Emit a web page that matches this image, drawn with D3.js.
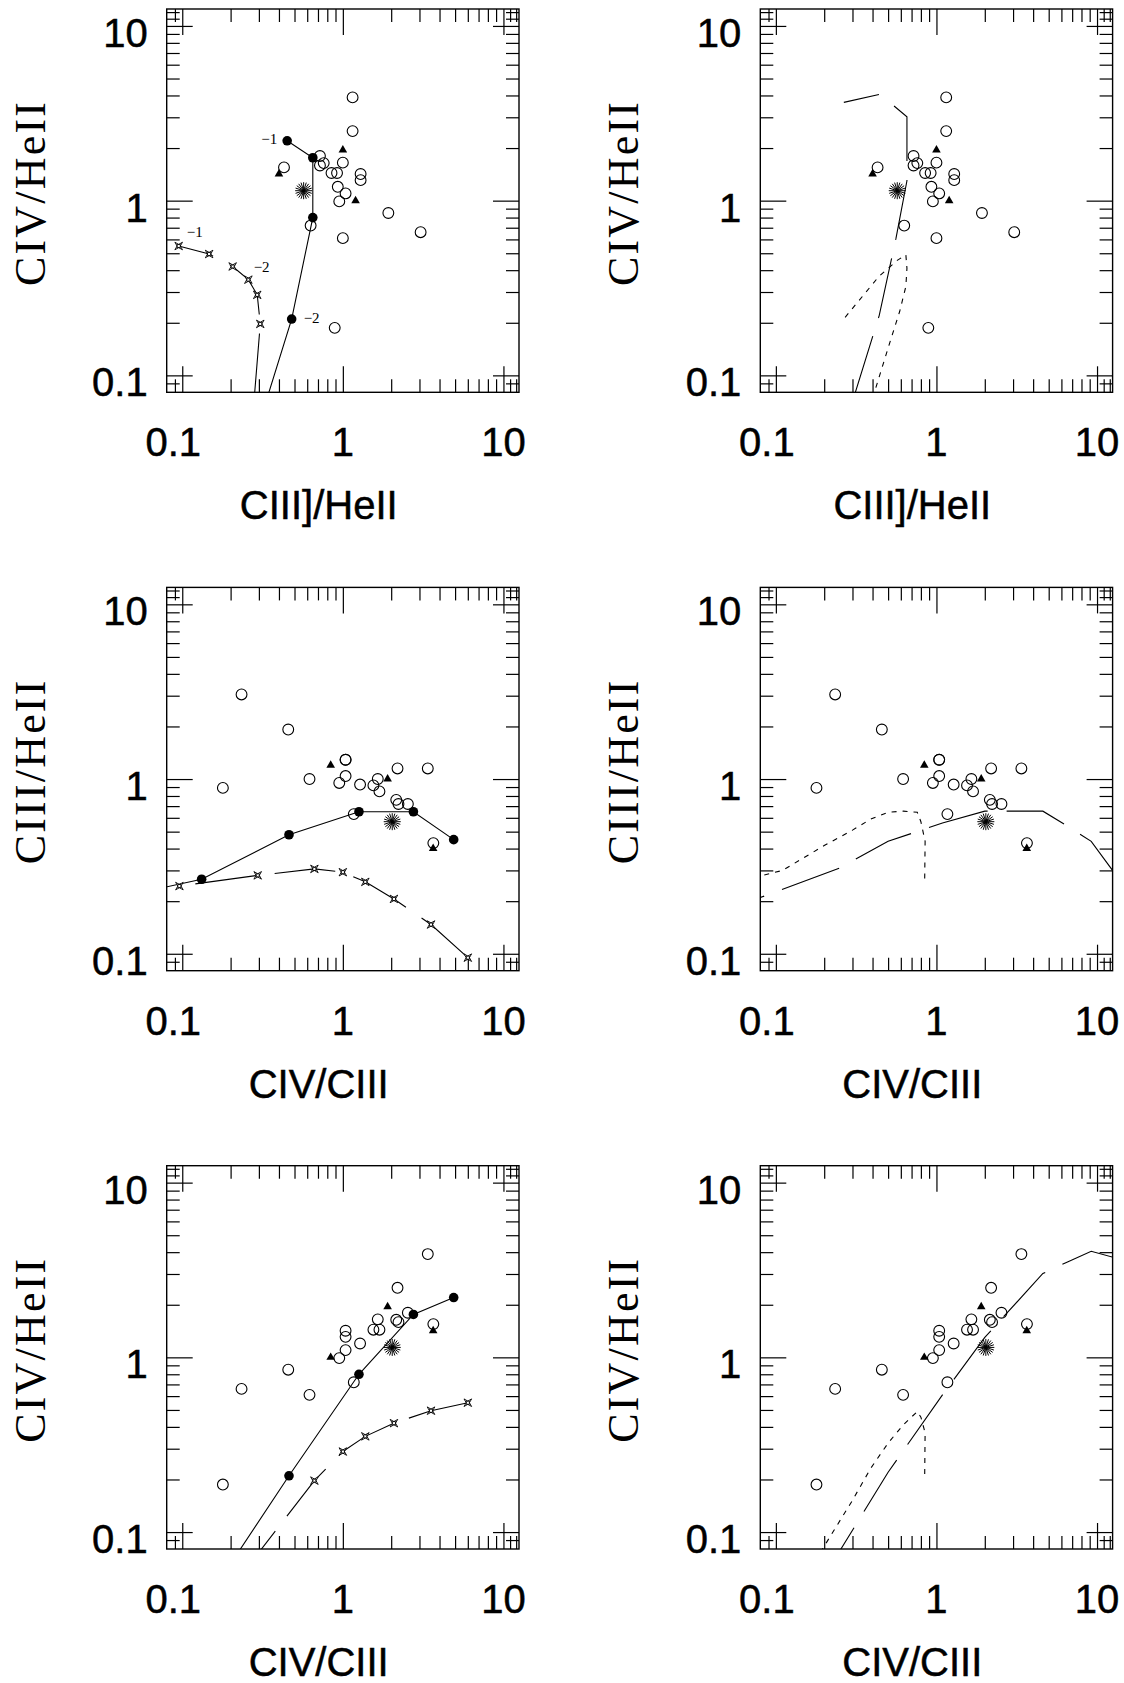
<!DOCTYPE html>
<html>
<head>
<meta charset="utf-8">
<script src="https://cdn.jsdelivr.net/npm/d3@7"></script>
<style>
body { margin: 0; background: #fff; }
</style>
</head>
<body>
<script>
// observed objects: CIII]/HeII, CIV/HeII and CIV/CIII for each one
var obsCIII = [1.15, 1.15, 0.72, 0.76, 0.72, 0.43, 0.85, 0.92, 1.0, 1.29, 1.29, 0.93, 1.04, 0.95, 1.92, 3.05, 0.63, 1.0, 0.89];
var obsCIV  = [3.9, 2.5, 1.8, 1.64, 1.59, 1.55, 1.44, 1.44, 1.65, 1.42, 1.31, 1.2, 1.1, 0.99, 0.85, 0.66, 0.72, 0.61, 0.187];
var obsRatio = [3.38, 2.19, 2.54, 2.15, 2.22, 3.66, 1.69, 1.55, 1.65, 1.04, 1.04, 1.28, 1.04, 0.95, 0.457, 0.234, 1.17, 0.62, 0.179];

// filled triangles
var triCIII = [1.0, 0.4, 1.2];
var triCIV  = [1.95, 1.42, 1.0];
var triRatio = [1.9, 3.65, 0.84];

// asterisk
var astCIII = [0.57];
var astCIV  = [1.14];
var astRatio = [2.03];

// model sequence with filled circles (solid line)
var m1CIII = [0.45, 0.65, 0.65, 0.48, 0.267, 0.22];
var m1CIV  = [2.2, 1.76, 0.8, 0.21, 0.037, 0.011];
var m1Ratio = [4.9, 2.75, 1.26, 0.462, 0.132, 0.05];

// model sequence with star symbols (long dashes)
var m2CIII = [0.095, 0.147, 0.206, 0.258, 0.293, 0.306, 0.281, 0.244];
var m2CIV  = [0.55, 0.495, 0.42, 0.353, 0.289, 0.197, 0.075, 0.023];
var m2Ratio = [6.0, 3.54, 2.08, 1.38, 1.0, 0.665, 0.295, 0.096];

// right column models: long dashed and short dashed curves
var mACIII = [0.265, 0.44, 0.535, 0.655, 0.655, 0.56, 0.44, 0.31, 0.19];
var mACIV  = [3.65, 4.05, 3.53, 3.02, 1.3, 0.61, 0.22, 0.078, 0.0114];
var mARatio = [13.8, 9.2, 6.6, 4.6, 2.0, 1.09, 0.5, 0.25, 0.06];

var mBCIII = [0.27, 0.44, 0.57, 0.645, 0.655, 0.645, 0.59, 0.51, 0.416, 0.30, 0.27];
var mBCIV  = [0.215, 0.37, 0.455, 0.49, 0.41, 0.323, 0.232, 0.152, 0.083, 0.033, 0.019];
var mBRatio = [0.845, 0.85, 0.80, 0.76, 0.62, 0.5, 0.39, 0.30, 0.20, 0.11, 0.07];

// axes
var axisDomain = [0.08, 12.5];
var majorTicks = [0.1, 1, 10];
var majorLabels = ['0.1', '1', '10'];
var minorTicks = [0.09, 0.2, 0.3, 0.4, 0.5, 0.6, 0.7, 0.8, 0.9, 2, 3, 4, 5, 6, 7, 8, 9, 11, 12];

// sequence labels in the first panel
var seqLabels = ['\u22121', '\u22122', '\u22121', '\u22122'];

var W = 1124, H = 1683;
var colX = [166.7, 760.3], rowY = [9, 587.4, 1165.7];
var PW = 352.3, PH = 383.3;

function set(ciii, civ, ratio) { return {ciii: ciii, civ: civ, ratio: ratio}; }
var obs = set(obsCIII, obsCIV, obsRatio),
    tri = set(triCIII, triCIV, triRatio),
    ast = set(astCIII, astCIV, astRatio),
    m1 = set(m1CIII, m1CIV, m1Ratio),
    m2 = set(m2CIII, m2CIV, m2Ratio),
    mA = set(mACIII, mACIV, mARatio),
    mB = set(mBCIII, mBCIV, mBRatio);

var panels = [
    {col: 0, row: 0, x: 'ciii', y: 'civ', xlabel: 'CIII]/HeII', ylabel: 'CIV/HeII', side: 'left', off2: 25},
    {col: 1, row: 0, x: 'ciii', y: 'civ', xlabel: 'CIII]/HeII', ylabel: 'CIV/HeII', side: 'right', offA: 25},
    {col: 0, row: 1, x: 'ratio', y: 'ciii', xlabel: 'CIV/CIII', ylabel: 'CIII/HeII', side: 'left', off2: 0},
    {col: 1, row: 1, x: 'ratio', y: 'ciii', xlabel: 'CIV/CIII', ylabel: 'CIII/HeII', side: 'right', offA: 0},
    {col: 0, row: 2, x: 'ratio', y: 'civ', xlabel: 'CIV/CIII', ylabel: 'CIV/HeII', side: 'left', off2: 0},
    {col: 1, row: 2, x: 'ratio', y: 'civ', xlabel: 'CIV/CIII', ylabel: 'CIV/HeII', side: 'right', offA: 0}
];

var svg = d3.select('body').append('svg')
    .attr('width', W)
    .attr('height', H)
    .style('display', 'block')
    .style('background', '#fff');
var defs = svg.append('defs');

// star symbol: small square with four concave spikes
function starPath(r)
{
    var s = r * 0.42;
    return 'M' + (-r) + ',' + (-r) + 'L' + 0 + ',' + (-s) + 'L' + r + ',' + (-r) + 'L' + s + ',' + 0 +
        'L' + r + ',' + r + 'L' + 0 + ',' + s + 'L' + (-r) + ',' + r + 'L' + (-s) + ',' + 0 + 'Z' +
        'M' + (-s) + ',' + (-s) + 'L' + s + ',' + (-s) + 'L' + s + ',' + s + 'L' + (-s) + ',' + s + 'Z';
}

function asteriskPath(r)
{
    var p = '';
    for (var i = 0; i < 10; i++)
    {
        var a = Math.PI * i / 10;
        p += 'M' + (r * Math.cos(a)) + ',' + (r * Math.sin(a)) + 'L' + (-r * Math.cos(a)) + ',' + (-r * Math.sin(a));
    }
    return p;
}

function sans(sel)
{
    sel.style('font-family', '"Liberation Sans", Arial, sans-serif')
        .style('font-size', '40px')
        .attr('stroke', '#000').attr('stroke-width', 0.5);
}

panels.forEach(function(p, i)
{
    var g = svg.append('g').attr('transform', 'translate(' + colX[p.col] + ',' + rowY[p.row] + ')');
    var x = d3.scaleLog().domain(axisDomain).range([0, PW]);
    var y = d3.scaleLog().domain(axisDomain).range([PH, 0]);

    defs.append('clipPath').attr('id', 'clip' + i)
        .append('rect').attr('x', 0).attr('y', 0).attr('width', PW).attr('height', PH);

    // ticks on all four sides, pointing inwards
    var axes = [
        [d3.axisBottom(x), 'translate(0,' + PH + ')'],
        [d3.axisTop(x), 'translate(0,0)'],
        [d3.axisLeft(y), 'translate(0,0)'],
        [d3.axisRight(y), 'translate(' + PW + ',0)']
    ];
    axes.forEach(function(a)
    {
        [[majorTicks, 26], [minorTicks, 13]].forEach(function(t)
        {
            var ax = a[0].tickValues(t[0]).tickSize(-t[1]).tickSizeOuter(0).tickFormat('');
            var ga = g.append('g').attr('transform', a[1]).call(ax);
            ga.select('.domain').remove();
            ga.selectAll('line').attr('stroke', '#000').attr('stroke-width', 1.2);
        });
    });

    g.append('rect')
        .attr('width', PW).attr('height', PH)
        .attr('fill', 'none').attr('stroke', '#000').attr('stroke-width', 1.4);

    // tick labels
    g.selectAll('text.xl').data(majorTicks).enter().append('text')
        .attr('x', function(d) { return x(d) - (d == 0.1 ? 9 : 0); })
        .attr('y', PH + 64)
        .attr('text-anchor', 'middle')
        .call(sans)
        .text(function(d, k) { return majorLabels[k]; });
    g.selectAll('text.yl').data(majorTicks).enter().append('text')
        .attr('x', -19)
        .attr('y', function(d) { return y(d) + 21; })
        .attr('text-anchor', 'end')
        .call(sans)
        .text(function(d, k) { return majorLabels[k]; });

    // axis titles
    g.append('text')
        .attr('x', 152).attr('y', PH + 127)
        .attr('text-anchor', 'middle')
        .call(sans)
        .text(p.xlabel);
    g.append('text')
        .attr('transform', 'translate(-122,' + 184 + ') rotate(-90)')
        .attr('text-anchor', 'middle')
        .style('font-family', '"Liberation Serif", "Times New Roman", serif')
        .style('font-size', '44px')
        .style('letter-spacing', '2.2px')
        .text(p.ylabel);

    var plot = g.append('g').attr('clip-path', 'url(#clip' + i + ')');
    var line = d3.line().x(function(d) { return x(d[0]); }).y(function(d) { return y(d[1]); });
    function pts(s) { return d3.zip(s[p.x], s[p.y]); }

    if (p.side == 'left')
    {
        plot.append('path').datum(pts(m1)).attr('d', line)
            .attr('fill', 'none').attr('stroke', '#000').attr('stroke-width', 1.1);
        plot.append('path').datum(pts(m2)).attr('d', line)
            .attr('fill', 'none').attr('stroke', '#000').attr('stroke-width', 1.1)
            .attr('stroke-dasharray', '61 19').attr('stroke-dashoffset', p.off2);
    }
    else
    {
        plot.append('path').datum(pts(mA)).attr('d', line)
            .attr('fill', 'none').attr('stroke', '#000').attr('stroke-width', 1.1)
            .attr('stroke-dasharray', '61 19').attr('stroke-dashoffset', p.offA);
        plot.append('path').datum(pts(mB)).attr('d', line)
            .attr('fill', 'none').attr('stroke', '#000').attr('stroke-width', 1.1)
            .attr('stroke-dasharray', '5 6');
    }

    // observed objects
    plot.selectAll('circle.obs').data(pts(obs)).enter().append('circle')
        .attr('cx', function(d) { return x(d[0]); })
        .attr('cy', function(d) { return y(d[1]); })
        .attr('r', 5.4)
        .attr('fill', 'none').attr('stroke', '#000').attr('stroke-width', 1.1);
    plot.selectAll('path.tri').data(pts(tri)).enter().append('path')
        .attr('transform', function(d) { return 'translate(' + x(d[0]) + ',' + y(d[1]) + ')'; })
        .attr('d', d3.symbol(d3.symbolTriangle, 32))
        .attr('fill', '#000');
    plot.selectAll('path.ast').data(pts(ast)).enter().append('path')
        .attr('transform', function(d) { return 'translate(' + x(d[0]) + ',' + y(d[1]) + ')'; })
        .attr('d', asteriskPath(8.5))
        .attr('stroke', '#000').attr('stroke-width', 1);

    if (p.side == 'left')
    {
        plot.selectAll('circle.m1').data(pts(m1)).enter().append('circle')
            .attr('cx', function(d) { return x(d[0]); })
            .attr('cy', function(d) { return y(d[1]); })
            .attr('r', 4.8)
            .attr('fill', '#000');
        plot.selectAll('path.m2').data(pts(m2)).enter().append('path')
            .attr('transform', function(d) { return 'translate(' + x(d[0]) + ',' + y(d[1]) + ')'; })
            .attr('d', starPath(3.8))
            .attr('fill', '#fff').attr('stroke', '#000').attr('stroke-width', 0.9);
    }

    if (i == 0)
    {
        // -1 / -2 labels next to the first points of each sequence
        var lab = [
            [m1[p.x][0], m1[p.y][0], -10, 3, 'end'],
            [m1[p.x][3], m1[p.y][3], 12, 4, 'start'],
            [m2[p.x][0], m2[p.y][0], 8, -9, 'start'],
            [m2[p.x][2], m2[p.y][2], 21, 6, 'start']
        ];
        g.selectAll('text.seq').data(lab).enter().append('text')
            .attr('x', function(d) { return x(d[0]) + d[2]; })
            .attr('y', function(d) { return y(d[1]) + d[3]; })
            .attr('text-anchor', function(d) { return d[4]; })
            .style('font-family', '"Liberation Serif", "Times New Roman", serif')
            .style('font-size', '15px')
            .text(function(d, k) { return seqLabels[k]; });
    }
});
</script>
</body>
</html>
